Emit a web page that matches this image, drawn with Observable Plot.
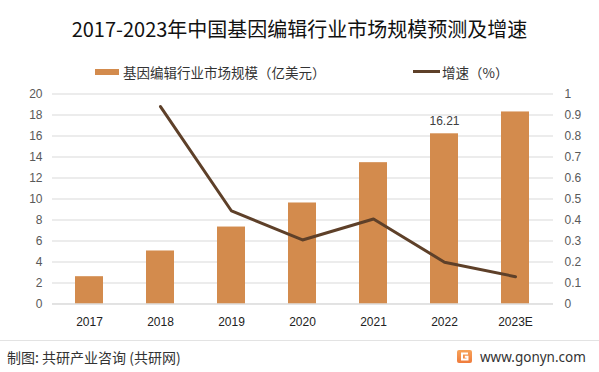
<!DOCTYPE html>
<html>
<head>
<meta charset="utf-8">
<script src="https://cdn.jsdelivr.net/npm/d3@7"></script>
<script src="https://cdn.jsdelivr.net/npm/@observablehq/plot@0.6"></script>
<style>
  html, body { margin: 0; padding: 0; background: #fff; }
  #wrap { position: relative; width: 599px; height: 372px; overflow: hidden; font-family: "Noto Sans CJK SC", "Noto Sans", sans-serif; }
  #title { position: absolute; left: 0; width: 599px; top: 15px; text-align: center; font-size: 20px; color: #111; line-height: 28px; }
  .leg { position: absolute; top: 62.5px; font-size: 13.5px; color: #333; line-height: 18px; white-space: nowrap; }
  .sw { position: absolute; }
  #chart { position: absolute; left: 0; top: 80px; }
  #sep { position: absolute; left: 0; width: 599px; top: 340px; height: 1px; background: #e3e3e3; }
  #src { position: absolute; left: 7px; top: 348px; font-size: 14px; color: #333; line-height: 18px; white-space: nowrap; }
  #site { position: absolute; left: 480px; top: 348px; font-family: "Noto Sans", sans-serif; font-size: 13.5px; color: #333; line-height: 18px; }
  #icon { position: absolute; left: 457px; top: 350px; }
</style>
</head>
<body>
<div id="wrap">
  <div id="title">2017-2023年中国基因编辑行业市场规模预测及增速</div>
  <div class="sw" style="left:95px;top:69px;width:24px;height:6px;background:#D38B4D"></div>
  <div class="leg" style="left:123px">基因编辑行业市场规模（亿美元）</div>
  <div class="sw" style="left:413px;top:70px;width:27px;height:3px;background:#5E4029"></div>
  <div class="leg" style="left:442px">增速（%）</div>
  <div id="chart"></div>
  <div id="sep"></div>
  <div id="src">制图: 共研产业咨询 (共研网)</div>
  <svg id="icon" width="15" height="13" viewBox="0 0 15 13">
    <defs><linearGradient id="g1" x1="0" y1="0" x2="0" y2="1"><stop offset="0" stop-color="#f7a35a"/><stop offset="1" stop-color="#ef7b3b"/></linearGradient></defs>
    <rect x="0" y="0" width="15" height="13" rx="2" fill="url(#g1)"/>
    <path d="M11 3.5 H5 V9.5 H10.5 V6.8 H7.8" fill="none" stroke="#fff" stroke-width="2"/>
  </svg>
  <div id="site">www.gonyn.com</div>
</div>
<script>
const years = ["2017", "2018", "2019", "2020", "2021", "2022", "2023E"];
const marketSize = [2.6, 5.05, 7.33, 9.62, 13.46, 16.21, 18.29];
const growth = [null, 0.94, 0.443, 0.305, 0.405, 0.199, 0.13];
const leftTicks = [0, 2, 4, 6, 8, 10, 12, 14, 16, 18, 20];
const rightTickLabels = ["0", "0.1", "0.2", "0.3", "0.4", "0.5", "0.6", "0.7", "0.8", "0.9", "1"];
const labeledYear = "2022";

const ratio = 20; // right axis max 1 ↔ left axis max 20
const rows = years.map((y, i) => ({year: y, size: marketSize[i], growth: growth[i]}));
const lineRows = rows.filter(d => d.growth != null);

const plot = Plot.plot({
  width: 599,
  height: 255,
  marginTop: 13.5,
  marginBottom: 31.5,
  marginLeft: 52,
  marginRight: 46,
  style: {fontFamily: "'Liberation Sans', 'Noto Sans', sans-serif", fontSize: "12px", color: "#595959", background: "transparent"},
  x: {domain: years, paddingInner: 0.6, paddingOuter: 0.3, label: null},
  y: {domain: [0, 20], label: null},
  marks: [
    Plot.gridY(leftTicks, {stroke: "#d9d9d9", strokeOpacity: 1, strokeWidth: 1}),
    Plot.barY(rows, {x: "year", y: "size", fill: "#D38B4D"}),
    Plot.line(lineRows, {x: "year", y: d => d.growth * ratio, stroke: "#5E4029", strokeWidth: 3, curve: "linear"}),
    Plot.text(rows.filter(d => d.year === labeledYear), {x: "year", y: "size", text: d => d.size.toFixed(2), dy: -13, fill: "#404040", fontSize: 12}),
    Plot.axisY(leftTicks, {anchor: "left", tickSize: 0, tickPadding: 10, label: null, fill: "#595959"}),
    Plot.axisY(leftTicks, {anchor: "right", tickSize: 0, tickPadding: 11, label: null, tickFormat: (d, i) => rightTickLabels[leftTicks.indexOf(d)], fill: "#595959", textAnchor: "start"}),
    Plot.axisX({tickSize: 0, tickPadding: 13, label: null, fill: "#222", fontSize: 12}),
    Plot.ruleY([0], {stroke: "#d9d9d9"})
  ]
});
document.getElementById("chart").appendChild(plot);
</script>
</body>
</html>
